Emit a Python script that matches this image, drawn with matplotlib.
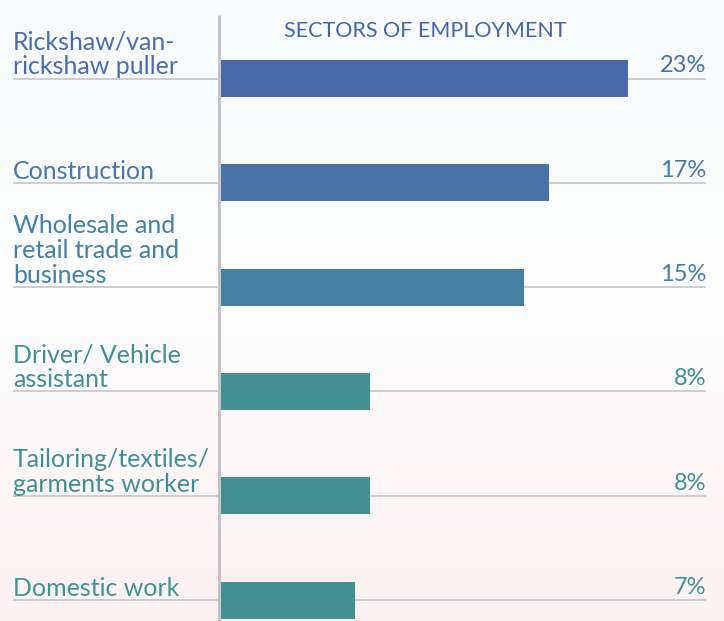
import numpy as np
import matplotlib.pyplot as plt
from matplotlib.colors import LinearSegmentedColormap

plt.rcParams['font.family'] = ['Lato', 'DejaVu Sans']

sectors = [
    "Rickshaw/van-\nrickshaw puller",
    "Construction",
    "Wholesale and\nretail trade and\nbusiness",
    "Driver/ Vehicle\nassistant",
    "Tailoring/textiles/\ngarments worker",
    "Domestic work",
]
# bar lengths (labels are the printed figures)
shares = [21.1, 17.0, 15.7, 7.8, 7.8, 7.0]
share_labels = ["23%", "17%", "15%", "8%", "8%", "7%"]
bar_colors = ["#4a69aa", "#4774a5", "#457fa2", "#439092", "#439092", "#439092"]
text_colors = ["#4b6bb1", "#4a77ab", "#4380a5", "#3f8f97", "#3f8f97", "#3f9494"]

fig = plt.figure(figsize=(7.24, 6.21), dpi=100)

# soft background gradient, mint at the top to pink at the bottom
bg = fig.add_axes([0, 0, 1, 1], zorder=0)
cmap = LinearSegmentedColormap.from_list("bg", ["#f8fcfc", "#fdfdfd", "#fcf1f3"])
bg.imshow(np.linspace(0, 1, 256).reshape(-1, 1), aspect="auto", cmap=cmap,
          extent=[0, 1, 0, 1])
bg.axis("off")

ax = fig.add_axes([0, 0, 1, 1], zorder=1)
ax.patch.set_alpha(0)

px = 19.4      # pixels per percentage point
x0 = 219       # pixel of the zero line
step = 104.3   # pixels between rows
top = 78.5     # pixel of first row centre
ax.set_xlim(-x0 / px, (724 - x0) / px)
ax.set_ylim((621 - top) / step, -top / step)
ax.axis("off")

y = np.arange(len(sectors))
left_x = (13 - x0) / px
right_x = (706 - x0) / px

for i in y:
    ax.plot([left_x, right_x], [i, i], color="#cdcdd1", lw=1.4, zorder=1,
            solid_capstyle="butt")
ax.barh(y, shares, height=37 / step, color=bar_colors, zorder=2)

# vertical axis line
ax.plot([0, 0], [-63.5 / step, (621 - top) / step], color="#c4c4c8", lw=2.2,
        zorder=3, solid_capstyle="butt")

for i in y:
    ax.text(left_x, i - 4 / step, sectors[i], ha="left", va="baseline",
            fontsize=18, color=text_colors[i], linespacing=1.1,
            fontweight="normal")
    ax.text(right_x, i - 6 / step, share_labels[i], ha="right", va="baseline",
            fontsize=17, color=text_colors[i], fontweight="normal")

ax.text((425 - x0) / px, -(top - 37) / step, "SECTORS OF EMPLOYMENT",
        ha="center", va="baseline", fontsize=15.5, color="#4466b0",
        fontweight="normal")

fig.savefig("out.png", dpi=100)
